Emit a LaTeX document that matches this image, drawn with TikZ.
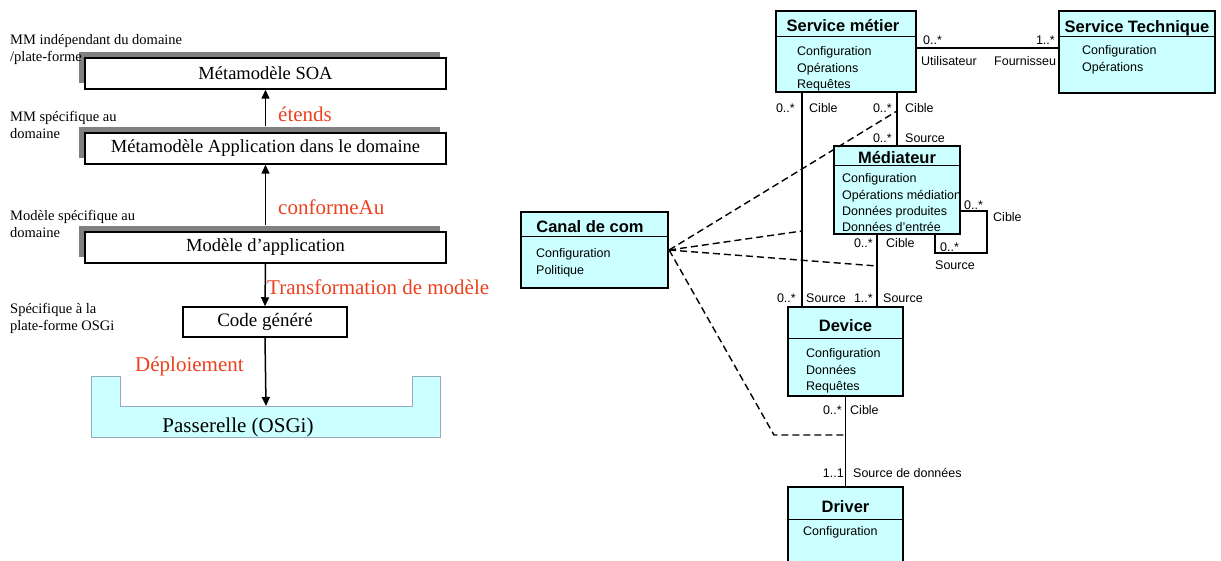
\documentclass[tikz,border=0pt]{standalone}
\usepackage{fontspec}
\setmainfont{Liberation Serif}
\setsansfont{Liberation Sans}
\definecolor{umlcyan}{RGB}{204,255,255}
\definecolor{labelred}{RGB}{235,65,30}
\definecolor{shadowgray}{RGB}{128,128,128}
\definecolor{gateborder}{RGB}{150,170,190}
\usetikzlibrary{arrows.meta,positioning,shadows}

\begin{document}
\begin{tikzpicture}[x=1pt,y=-1pt,
  mmbox/.style={draw,line width=1.5pt,fill=white,minimum width=361pt,minimum height=31pt,
    font=\fontsize{18.5}{21}\selectfont,
    drop shadow={shadow xshift=-6pt,shadow yshift=6pt,fill=shadowgray,opacity=1}},
  arr/.style={-{Triangle[length=9pt,width=8pt]},line width=1.5pt},
  redlabel/.style={text=labelred,font=\fontsize{21}{24}\selectfont,anchor=west,inner sep=0pt},
  sidelabel/.style={font=\fontsize{14.5}{17}\selectfont,align=left,anchor=west,inner sep=0pt},
  umlbox/.style={draw,line width=2.2pt,fill=umlcyan,inner sep=0pt},
  umltitle/.style={font=\sffamily\bfseries\fontsize{16.5}{19}\selectfont,anchor=base,inner sep=0pt},
  umlattr/.style={font=\sffamily\fontsize{12.5}{16.3}\selectfont,align=left,anchor=north west,inner sep=0pt},
  mult/.style={font=\sffamily\fontsize{12.5}{15}\selectfont,inner sep=0pt},
  assoc/.style={line width=1.5pt},
  dashlink/.style={dash pattern=on 7pt off 4pt,line width=1.4pt}]
\useasboundingbox (0,0) rectangle (1221,561);
\clip (0,0) rectangle (1221,561);

\node[mmbox] (soa) at (265.5,73.5) {Métamodèle SOA};
\node[mmbox] (appmm) at (265.5,148.5) {Métamodèle Application dans le domaine};
\node[mmbox] (appmod) at (265.5,247.5) {Modèle d’application};
\node[draw,line width=1.5pt,fill=white,minimum width=164pt,minimum height=30pt,font=\fontsize{19}{22}\selectfont] (code) at (265,322) {Code généré};
\draw[fill=umlcyan,draw=gateborder,line width=0.8pt] (91,376) -- (120,376) -- (120,406) -- (412,406) -- (412,376) -- (440,376) -- (440,437) -- (91,437) -- cycle;
\coordinate (gate) at (266,406);
\node[font=\fontsize{21}{24}\selectfont] (gatetext) at (238,427) {Passerelle (OSGi)};
\draw[arr] ([yshift=6pt]appmm.north) -- (soa.south);
\draw[arr] ([yshift=6pt]appmod.north) -- (appmm.south);
\draw[arr] (appmod.south) -- (code.north);
\draw[arr] (code.south) -- (gate);
\node[redlabel] (extends) at (278,114) {étends};
\node[redlabel] (conforms) at (278,207) {conformeAu};
\node[redlabel] (transform) at (267,287) {Transformation de modèle};
\node[redlabel] (deploy) at (135,366) {Déploiement};
\node[sidelabel] (lvlsoa) at (10,50) {MM indépendant du domaine\\/plate-forme};
\node[sidelabel] (lvlappmm) at (10,124.5) {MM spécifique au\\domaine};
\node[sidelabel] (lvlappmod) at (10,224) {Modèle spécifique au\\domaine};
\node[sidelabel] (lvlcode) at (10,318) {Spécifique à la\\plate-forme OSGi};

\node[umlbox,minimum width=140pt,minimum height=81pt] (smetier) at (846,51.5) {};
\node[umlbox,minimum width=156pt,minimum height=82pt] (stech) at (1137,52) {};
\node[umlbox,minimum width=126pt,minimum height=88pt] (mediator) at (897,190) {};
\node[umlbox,minimum width=147pt,minimum height=76pt] (canal) at (594.5,250) {};
\node[umlbox,minimum width=115pt,minimum height=89pt] (device) at (845.5,351.5) {};
\node[umlbox,minimum width=115pt,minimum height=93pt] (driver) at (845.5,533.5) {};
\draw[line width=1pt] (smetier.west |- 0,37) -- (smetier.east |- 0,37);
\draw[line width=1pt] (stech.west |- 0,37) -- (stech.east |- 0,37);
\draw[line width=1pt] (mediator.west |- 0,166) -- (mediator.east |- 0,166);
\draw[line width=1pt] (canal.west |- 0,237) -- (canal.east |- 0,237);
\draw[line width=1pt] (device.west |- 0,339) -- (device.east |- 0,339);
\draw[line width=1pt] (driver.west |- 0,519) -- (driver.east |- 0,519);
\node[umltitle] (smetiertitle) at (843,31.5) {Service métier};
\node[umltitle] (stechtitle) at (1137,33) {Service Technique};
\node[umltitle] (mediatortitle) at (897,163.8) {Médiateur};
\node[umltitle] (canaltitle) at (590,232.8) {Canal de com};
\node[umltitle] (devicetitle) at (845.5,331.8) {Device};
\node[umltitle] (drivertitle) at (845.5,512.8) {Driver};
\node[umlattr] (smetierattr) at (797,44.1) {\strut Configuration\\Opérations\\Requêtes};
\node[umlattr] (stechattr) at (1082,43.1) {\strut Configuration\\Opérations};
\node[umlattr] (mediatorattr) at (842,171.1) {\strut Configuration\\Opérations médiation\\Données produites\\Données d’entrée};
\node[umlattr] (canalattr) at (536,246.1) {\strut Configuration\\Politique};
\node[umlattr] (deviceattr) at (806,346.1) {\strut Configuration\\Données\\Requêtes};
\node[umlattr] (driverattr) at (803,524.1) {\strut Configuration};

\draw[assoc] (smetier.east |- 0,48) -- (stech.west |- 0,48);
\draw[assoc] (802,0 |- smetier.south) -- (802,0 |- device.north);
\draw[assoc] (smetier.south -| mediator.north) -- (mediator.north);
\draw[assoc] (877,0 |- mediator.south) -- (877,0 |- device.north);
\draw[assoc] (device.south) -- (driver.north);
\draw[assoc] (mediator.east |- 0,211) -- (987,211) -- (987,253) -- (935,253) -- (935,0 |- mediator.south);
\coordinate (dA) at (897,111);
\coordinate (dB) at (802,231);
\coordinate (dC) at (877,266);
\coordinate (dD) at (774,435);
\coordinate (dE) at (846,435);
\draw[dashlink] (canal.east) -- (dA);
\draw[dashlink] (canal.east) -- (dB);
\draw[dashlink] (canal.east) -- (dC);
\draw[dashlink] (canal.east) -- (dD) -- (dE);

\node[mult,anchor=west] (m1) at (923,40) {0..*};
\node[mult,anchor=west] (r1) at (921,61) {Utilisateur};
\node[mult,anchor=east] (m2) at (1055,40) {1..*};
\node[mult,anchor=west] (r2) at (994,61) {Fournisseu};
\node[mult,anchor=east] (m3) at (795,108) {0..*};
\node[mult,anchor=west] (r3) at (809,108) {Cible};
\node[mult,anchor=east] (m4) at (892,108) {0..*};
\node[mult,anchor=west] (r4) at (905,108) {Cible};
\node[mult,anchor=east] (m5) at (892,138) {0..*};
\node[mult,anchor=west] (r5) at (905,138) {Source};
\node[mult,anchor=east] (m6) at (873,243) {0..*};
\node[mult,anchor=west] (r6) at (886,243) {Cible};
\node[mult,anchor=west] (m7) at (964,205) {0..*};
\node[mult,anchor=west] (r7) at (993,217) {Cible};
\node[mult,anchor=west] (m8) at (940,247) {0..*};
\node[mult,anchor=west] (r8) at (935,265) {Source};
\node[mult,anchor=east] (m9) at (796,298) {0..*};
\node[mult,anchor=west] (r9) at (806,298) {Source};
\node[mult,anchor=east] (m10) at (873,298) {1..*};
\node[mult,anchor=west] (r10) at (883,298) {Source};
\node[mult,anchor=east] (m11) at (842,410) {0..*};
\node[mult,anchor=west] (r11) at (850,410) {Cible};
\node[mult,anchor=east] (m12) at (844,473) {1..1};
\node[mult,anchor=west] (r12) at (853,473) {Source de données};
\end{tikzpicture}
\end{document}
